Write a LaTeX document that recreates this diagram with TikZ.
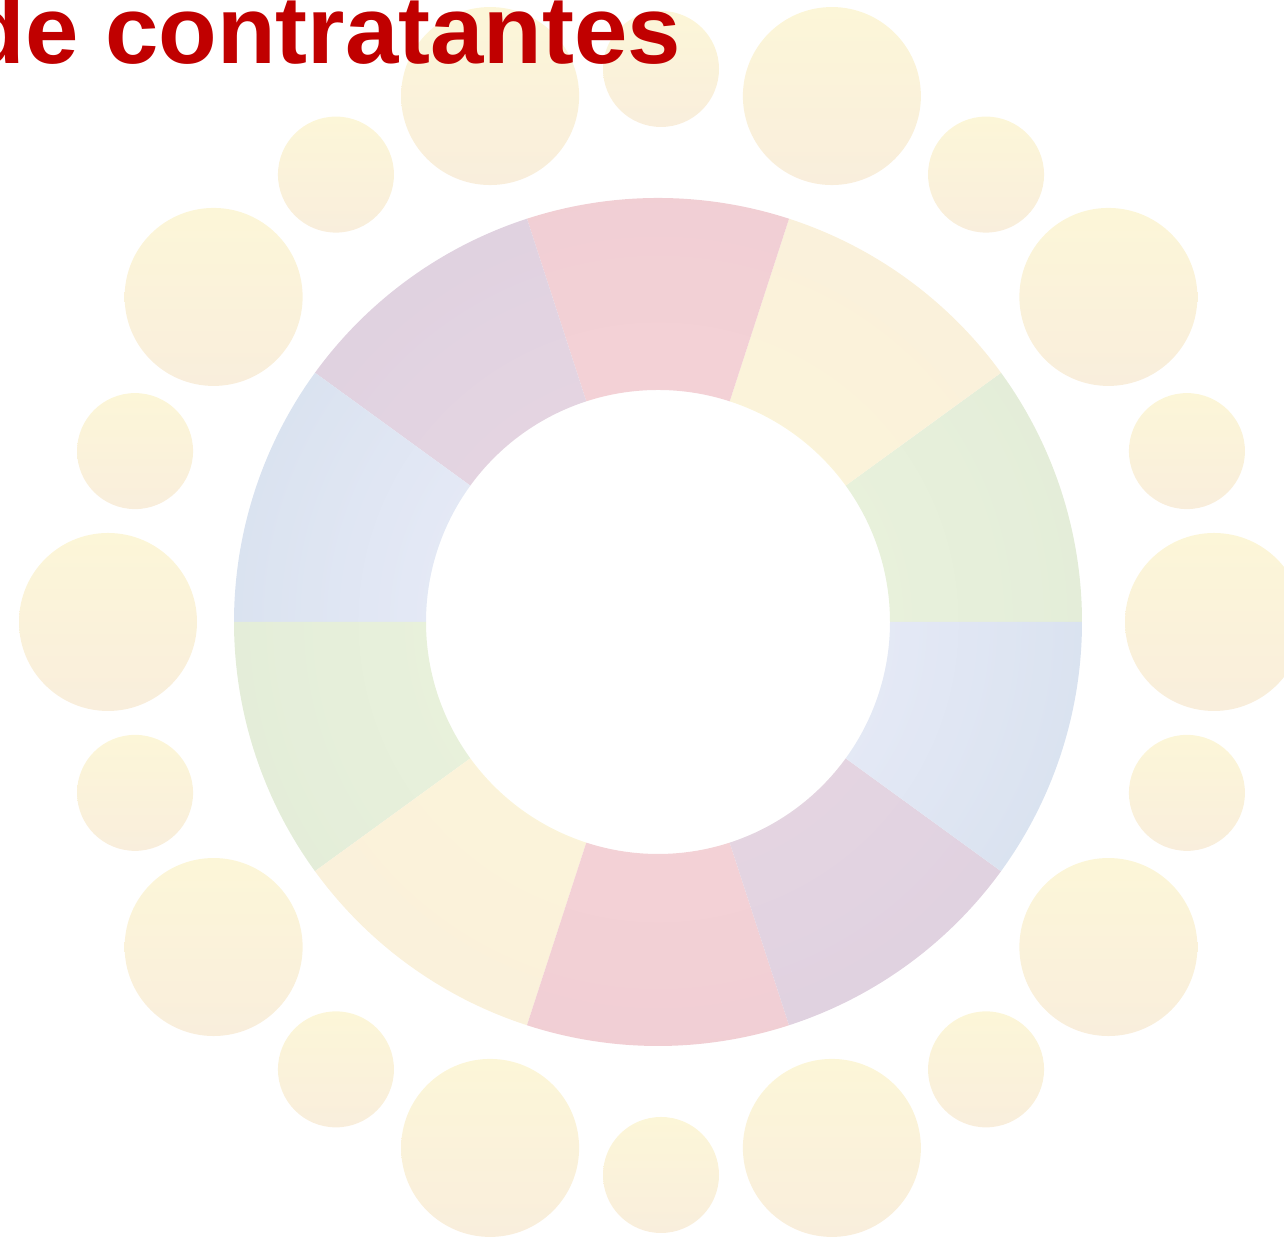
\documentclass[tikz,border=0pt]{standalone}
\usepackage{fontspec}
\setmainfont{Liberation Sans}

\definecolor{titlered}{HTML}{C00000}
\definecolor{dottop}{HTML}{FCF6D8}
\definecolor{dotbottom}{HTML}{F9EEDC}
\definecolor{greenin}{HTML}{EDF5DE}
\definecolor{greenout}{HTML}{E0EAD7}
\definecolor{yellowin}{HTML}{FDF7D8}
\definecolor{yellowout}{HTML}{F9EEDC}
\definecolor{pinkin}{HTML}{F6D5D8}
\definecolor{pinkout}{HTML}{EFCCD3}
\definecolor{purplein}{HTML}{E9D8E3}
\definecolor{purpleout}{HTML}{DCCFDF}
\definecolor{bluein}{HTML}{F0F0FC}
\definecolor{blueout}{HTML}{D1DDEB}

\tikzset{
  bigdot/.style={shape=circle, minimum size=1.78cm, inner sep=0pt, draw=none,
    top color=dottop, bottom color=dotbottom},
  smalldot/.style={shape=circle, minimum size=1.16cm, inner sep=0pt, draw=none,
    top color=dottop, bottom color=dotbottom},
}

\begin{document}
\begin{tikzpicture}
    \useasboundingbox (0,0) rectangle (12.84,12.42);

    \begin{scope}[shift={(6.58,6.20)}]
    % ring of ten segments
    \foreach \a/\ci/\co in {0/greenin/greenout, 36/yellowin/yellowout,
        72/pinkin/pinkout, 108/purplein/purpleout, 144/bluein/blueout,
        180/greenin/greenout, 216/yellowin/yellowout, 252/pinkin/pinkout,
        288/purplein/purpleout, 324/bluein/blueout}{
      \pgfmathsetmacro{\b}{\a+36}
      \begin{scope}
        \clip (\a:4.24) arc[start angle=\a, end angle=\b, radius=4.24]
          -- (\b:2.32) arc[start angle=\b, end angle=\a, radius=2.32] -- cycle;
        \shade[inner color=\ci, outer color=\co] (0,0) circle (6.0);
      \end{scope}
    }
    \end{scope}

    % dots round the ring
    \begin{scope}[shift={(6.61,6.20)}]
    \foreach \k in {0,...,9}{
      \node[bigdot] (big\k) at (36*\k:5.53) {};
      \node[smalldot] (small\k) at (36*\k+18:5.53) {};
    }
    \end{scope}

    \node[anchor=base west, inner sep=0pt, text=titlered,
      font=\bfseries\fontsize{27.3}{32}\selectfont] (title) at (-0.34,11.78) {de contratantes};
\end{tikzpicture}
\end{document}
